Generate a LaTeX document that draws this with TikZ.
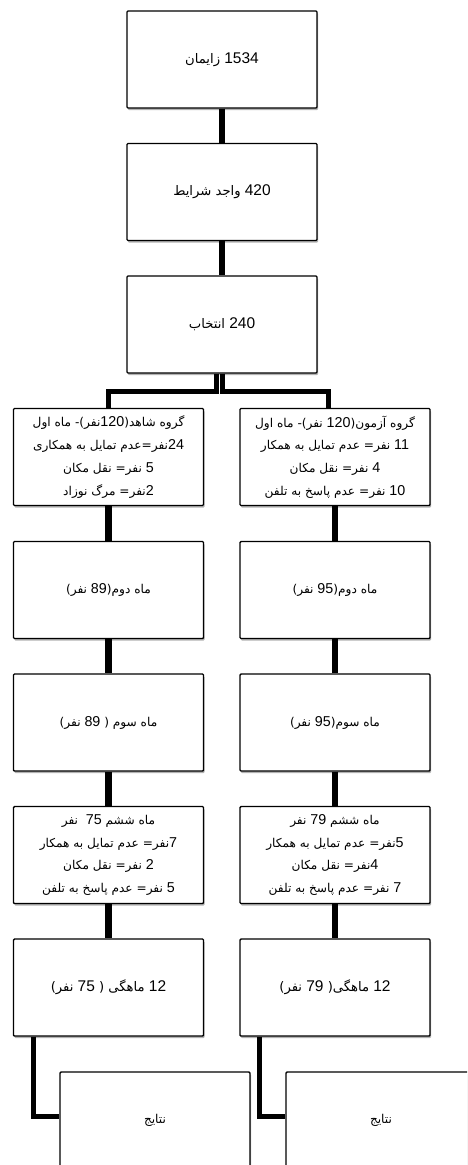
\documentclass[tikz,border=0pt]{standalone}
\usepackage{fontspec}
\usetikzlibrary{shadows,calc}
\TeXXeTstate=1
\newfontfamily\ar[Script=Arabic,Scale=0.85]{DejaVu Sans}
\newfontfamily\lat{Liberation Sans}
\newcommand\nm[1]{{\lat #1}}
\newcommand\rl[1]{\beginR #1\endR}
\begin{document}
\begin{tikzpicture}[x=1pt,y=-1pt,
  box/.style={draw=black, line width=1.4pt, rounded corners=1pt, fill=white,
    minimum width=190pt, minimum height=97pt, inner sep=0pt, align=center,
    drop shadow={shadow xshift=1pt, shadow yshift=-2pt, opacity=0.3, fill=black}},
  big/.style={font=\ar\fontsize{15.5}{22.7}\selectfont},
  mid/.style={font=\ar\fontsize{14.3}{22.7}\selectfont},
  small/.style={font=\ar\fontsize{14.3}{22.7}\selectfont},
  conn/.style={line width=6.5pt, black},
  br/.style={line width=5pt, black}]
\clip (0,0) rectangle (467,1165);
\fill[white] (0,0) rectangle (467,1165);
% nodes
\node[box,big] (b1) at (222,59.5) {\rl{\nm{1534} زایمان}};
\node[box,big] (b2) at (222,192) {\rl{\nm{420} واجد شرایط}};
\node[box,big] (b3) at (222,324.5) {\rl{\nm{240} انتخاب}};
\node[box,mid] (L1) at (108.5,457) {\rl{گروه شاهد(\nm{120}نفر)- ماه اول}\\
  \rl{\nm{24}نفر=عدم تمایل به همکاری}\\
  \rl{\nm{5} نفر= نقل مکان}\\
  \rl{\nm{2}نفر= مرگ نوزاد}};
\node[box,mid] (R1) at (335,457) {\rl{گروه آزمون(\nm{120} نفر)- ماه اول}\\
  \rl{\nm{11} نفر= عدم تمایل به همکار}\\
  \rl{\nm{4} نفر= نقل مکان}\\
  \rl{\nm{10} نفر= عدم پاسخ به تلفن}};
\node[box,small] (L2) at (108.5,590) {\rl{ماه دوم(\nm{89} نفر)}};
\node[box,small] (R2) at (335,590) {\rl{ماه دوم(\nm{95} نفر)}};
\node[box,small] (L3) at (108.5,722.5) {\rl{ماه سوم ( \nm{89} نفر)}};
\node[box,small] (R3) at (335,722.5) {\rl{ماه سوم(\nm{95} نفر)}};
\node[box,mid] (L4) at (108.5,855) {\rl{ماه ششم \nm{75}\ \ نفر}\\
  \rl{\nm{7}نفر= عدم تمایل به همکار}\\
  \rl{\nm{2} نفر= نقل مکان}\\
  \rl{\nm{5} نفر= عدم پاسخ به تلفن}};
\node[box,mid] (R4) at (335,855) {\rl{ماه ششم \nm{79} نفر}\\
  \rl{\nm{5}نفر= عدم تمایل به همکار}\\
  \rl{\nm{4}نفر= نقل مکان}\\
  \rl{\nm{7} نفر= عدم پاسخ به تلفن}};
\node[box,big] (L5) at (108.5,987.5) {\rl{\nm{12} ماهگی ( \nm{75} نفر)}};
\node[box,big] (R5) at (335,987.5) {\rl{\nm{12} ماهگی( \nm{79} نفر)}};
\node[box,small] (LN) at (155,1120.5) {\rl{نتایج}};
\node[box,small] (RN) at (381,1120.5) {\rl{نتایج}};
% connectors
\draw[conn] (b1.south) -- (b2.north);
\draw[conn] (b2.south) -- (b3.north);
\draw[br] ([xshift=-5.5pt]b3.south) -- ++(0,18) -| (L1.north);
\draw[br] ([xshift=0pt]b3.south) -- ++(0,18) -| ([xshift=-7pt]R1.north);
\draw[conn] (L1.south) -- (L2.north);
\draw[conn] (R1.south) -- (R2.north);
\draw[conn] (L2.south) -- (L3.north);
\draw[conn] (R2.south) -- (R3.north);
\draw[conn] (L3.south) -- (L4.north);
\draw[conn] (R3.south) -- (R4.north);
\draw[conn] (L4.south) -- (L5.north);
\draw[conn] (R4.south) -- (R5.north);
\draw[br] ([xshift=-75pt]L5.south) |- ([yshift=4pt]LN.west);
\draw[br] ([xshift=-75.5pt]R5.south) |- ([yshift=4pt]RN.west);
\end{tikzpicture}
\end{document}
